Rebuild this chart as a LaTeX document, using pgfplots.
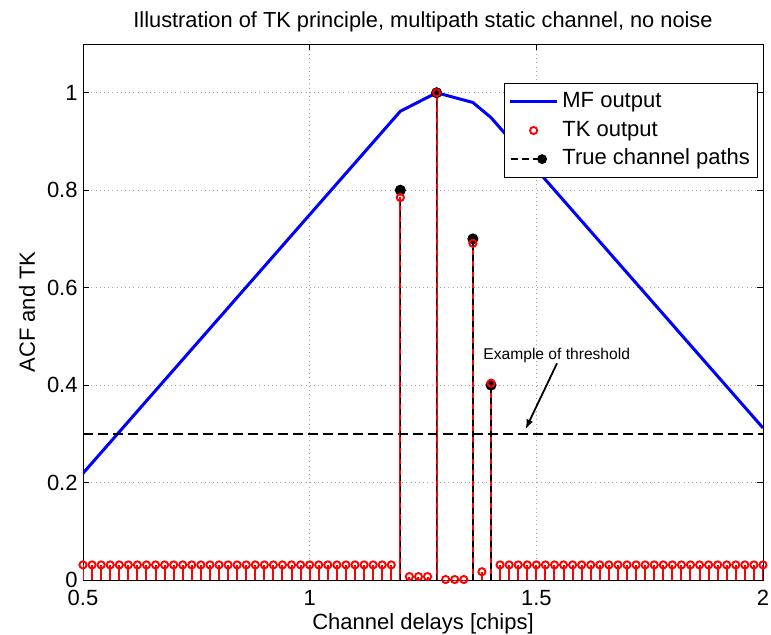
\documentclass[border=0pt]{standalone}
\usepackage{pgfplots}
\usepackage{pgfplotstable}
\usepackage{fontspec}
\setmainfont{Liberation Sans}
\pgfplotsset{compat=1.18}
\usetikzlibrary{arrows.meta}

% TK output samples (0.02 chip grid)
\pgfplotstableread{
x y
0.50 0.031
0.52 0.031
0.54 0.031
0.56 0.031
0.58 0.031
0.60 0.031
0.62 0.031
0.64 0.031
0.66 0.031
0.68 0.031
0.70 0.031
0.72 0.031
0.74 0.031
0.76 0.031
0.78 0.031
0.80 0.031
0.82 0.031
0.84 0.031
0.86 0.031
0.88 0.031
0.90 0.031
0.92 0.031
0.94 0.031
0.96 0.031
0.98 0.031
1.00 0.031
1.02 0.031
1.04 0.031
1.06 0.031
1.08 0.031
1.10 0.031
1.12 0.031
1.14 0.031
1.16 0.031
1.18 0.031
1.20 0.785
1.22 0.007
1.24 0.007
1.26 0.007
1.28 1.000
1.30 0.001
1.32 0.001
1.34 0.001
1.36 0.691
1.38 0.017
1.40 0.404
1.42 0.031
1.44 0.031
1.46 0.031
1.48 0.031
1.50 0.031
1.52 0.031
1.54 0.031
1.56 0.031
1.58 0.031
1.60 0.031
1.62 0.031
1.64 0.031
1.66 0.031
1.68 0.031
1.70 0.031
1.72 0.031
1.74 0.031
1.76 0.031
1.78 0.031
1.80 0.031
1.82 0.031
1.84 0.031
1.86 0.031
1.88 0.031
1.90 0.031
1.92 0.031
1.94 0.031
1.96 0.031
1.98 0.031
2.00 0.031
}\tkdata

\begin{document}
\begin{tikzpicture}
\useasboundingbox (-41.5pt,-27pt) rectangle (344pt,290pt);
\begin{axis}[
  at={(0pt,0pt)}, anchor=south west,
  scale only axis, width=340pt, height=268pt,
  xmin=0.5, xmax=2, ymin=0, ymax=1.1,
  xtick={0.5,1,1.5,2}, ytick={0,0.2,0.4,0.6,0.8,1},
  tick align=inside, major tick length=3pt,
  tick style={black, line width=0.4pt},
  axis line style={black, line width=0.5pt},
  grid=major,
  major grid style={gray!70, line width=0.4pt, dash pattern=on 0.5pt off 1.6pt},
  /pgf/number format/assume math mode=true,
  tick label style={font=\fontsize{11}{13}\selectfont},
  xticklabel style={anchor=north, inner sep=0pt, yshift=-5pt},
  yticklabel style={anchor=east, inner sep=0pt, xshift=-2.5pt},
  label style={font=\fontsize{11}{13}\selectfont},
  every axis title shift=0pt,
  title style={font=\fontsize{10.9}{13}\selectfont, at={(0.5,1)}, anchor=base, yshift=8.5pt, inner sep=0pt},
  xlabel style={at={(axis description cs:0.5,0)}, anchor=base, yshift=-24.5pt, inner sep=0pt},
  ylabel style={at={(axis description cs:-0.0706,0.5)}, anchor=base, inner sep=0pt},
  title={Illustration of TK principle, multipath static channel, no noise},
  xlabel={Channel delays [chips]},
  ylabel={ACF and TK},
  legend style={at={(rel axis cs:0.993,0.927)}, anchor=north east,
    draw=black, fill=white, line width=0.5pt,
    font=\fontsize{11}{13}\selectfont, inner sep=2pt, row sep=0pt,
    nodes={inner sep=1.9pt, text height=8pt, text depth=2.5pt}},
  legend cell align=left,
]
% matched filter output
\addplot[blue, line width=1.5pt, forget plot] coordinates {
  (0.50,0.219) (1.20,0.962) (1.28,1.000) (1.36,0.980) (1.40,0.949) (2.00,0.312)};
% threshold
\addplot[black, line width=1pt, dash pattern=on 5pt off 2.5pt, forget plot] coordinates {(0.5,0.3) (2,0.3)};
% TK stems
\addplot[red, line width=1pt, ycomb, no marks, forget plot] table[x=x, y=y] {\tkdata};
% true channel paths
\addplot[black, line width=0.7pt, ycomb, dash pattern=on 3pt off 2.5pt,
  mark=*, mark size=2.4pt, mark options={solid, fill=black}, forget plot]
  coordinates {(1.20,0.8) (1.28,1.0) (1.36,0.7) (1.40,0.4)};
% TK markers
\addplot[red, only marks, mark=o, mark size=1.8pt, mark options={line width=0.95pt}, forget plot]
  table[x=x, y=y] {\tkdata};

\node[font=\fontsize{7.8}{9}\selectfont] at (axis cs:1.545,0.461) {Example of threshold};
\draw[-{Latex[length=5pt,width=3.5pt]}, line width=0.9pt] (axis cs:1.5456,0.4447) -- (axis cs:1.476,0.309);

\addlegendimage{legend image code/.code={\draw[blue, line width=1.5pt] (0pt,0pt) -- (23.5pt,0pt);}}
\addlegendentry{MF output}
\addlegendimage{legend image code/.code={\draw[red, line width=0.95pt] (11.75pt,0pt) circle (1.8pt);}}
\addlegendentry{TK output}
\addlegendimage{legend image code/.code={\draw[black, line width=0.9pt, dash pattern=on 3.5pt off 2pt] (0.5pt,0pt) -- (16pt,0pt); \fill[black] (16pt,0pt) circle (2.2pt);}}
\addlegendentry{True channel paths}
\end{axis}
\end{tikzpicture}
\end{document}
